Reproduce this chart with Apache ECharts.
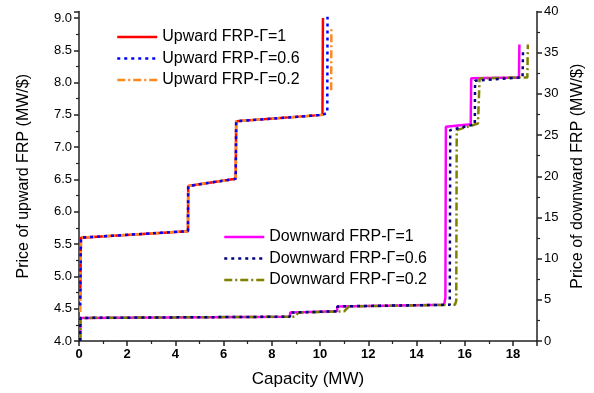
<!DOCTYPE html>
<html>
<head>
<meta charset="utf-8">
<script src="https://cdn.jsdelivr.net/npm/echarts@6/dist/echarts.min.js"></script>
<style>
  html, body { margin: 0; padding: 0; background: #fff; }
  #main { width: 594px; height: 393px; }
</style>
</head>
<body>
<div id="main"></div>
<script>
  // upward FRP price steps (left axis), [capacity, price]
  const upG1 = [[0.05, 4.65], [0.08, 5.6], [4.52, 5.7], [4.53, 6.4], [6.5, 6.51], [6.52, 7.4], [10.1, 7.5], [10.12, 9.0]];
  const upG06 = [[0.05, 4.55], [0.08, 5.6], [4.52, 5.7], [4.53, 6.4], [6.5, 6.51], [6.52, 7.4], [10.1, 7.5], [10.3, 7.53], [10.31, 9.02]];
  const upG02 = [[0.05, 4.45], [0.08, 5.6], [4.52, 5.7], [4.53, 6.4], [6.5, 6.51], [6.52, 7.4], [10.12, 7.5], [10.3, null], [10.46, 7.88], [10.47, 8.85]];

  // downward FRP price steps (right axis)
  const dnG1 = [[0.05, 0], [0.06, 2.8], [8.75, 2.95], [8.76, 3.45], [10.7, 3.6], [10.72, 4.2], [15.15, 4.4], [15.2, 5.3], [15.22, 26.0], [16.25, 26.3], [16.27, 31.9], [18.25, 32.0], [18.27, 36.0]];
  const dnG06 = [[0.05, 0], [0.06, 2.8], [8.75, 2.95], [8.76, 3.45], [10.7, 3.6], [10.72, 4.2], [15.38, 4.4], [15.4, 25.6], [16.42, 26.3], [16.43, 31.6], [18.4, 32.0], [18.42, 35.3]];
  const dnG02 = [[0.05, 0], [0.06, 2.8], [8.95, 2.95], [9.1, 3.45], [11.0, 3.6], [11.2, 4.2], [15.6, 4.4], [15.65, 4.9], [15.67, 25.6], [16.55, 26.4], [16.62, 31.9], [18.6, 32.0], [18.62, 36.0]];

  const upNames = ['Upward FRP-Γ=1', 'Upward FRP-Γ=0.6', 'Upward FRP-Γ=0.2'];
  const dnNames = ['Downward FRP-Γ=1', 'Downward FRP-Γ=0.6', 'Downward FRP-Γ=0.2'];

  const font = '"Liberation Sans", Arial, sans-serif';
  const axisCol = '#222';

  function onStep(v, step) {
    return Math.abs(v / step - Math.round(v / step)) < 1e-6;
  }

  let chart = echarts.init(document.getElementById('main'));
  chart.setOption({
    animation: false,
    grid: { left: 79, right: 46, top: 11.5, bottom: 50, containLabel: false },
    xAxis: {
      type: 'value',
      min: 0, max: 19, interval: 2,
      name: 'Capacity (MW)',
      nameLocation: 'middle',
      nameGap: 30,
      nameTextStyle: { fontSize: 17, color: '#000', fontFamily: font },
      axisLine: { lineStyle: { color: axisCol, width: 1.5 } },
      axisTick: { length: 5, lineStyle: { color: axisCol, width: 1.5 } },
      minorTick: { show: true, splitNumber: 2, length: 3, lineStyle: { color: axisCol, width: 1.2 } },
      axisLabel: {
        fontSize: 13, fontWeight: 'bold', color: '#000', fontFamily: font, margin: 7,
        formatter: v => onStep(v, 2) ? String(Math.round(v)) : ''
      },
      splitLine: { show: false }
    },
    yAxis: [
      {
        type: 'value',
        min: 4, max: 9.1, interval: 0.5,
        name: 'Price of upward FRP (MW/$)',
        nameLocation: 'middle',
        nameGap: 47,
        nameTextStyle: { fontSize: 16, color: '#000', fontFamily: font },
        axisLine: { show: true, lineStyle: { color: axisCol, width: 1.5 } },
        axisTick: { length: 5, lineStyle: { color: axisCol, width: 1.5 } },
        minorTick: { show: true, splitNumber: 2, length: 3, lineStyle: { color: axisCol, width: 1.2 } },
        axisLabel: {
          fontSize: 13, color: '#000', fontFamily: font, margin: 7,
          formatter: v => onStep(v, 0.5) ? v.toFixed(1) : ''
        },
        splitLine: { show: false }
      },
      {
        type: 'value',
        position: 'right',
        min: 0, max: 40, interval: 5,
        name: 'Price of downward FRP (MW/$)',
        nameLocation: 'middle',
        nameGap: 33,
        nameTextStyle: { fontSize: 16, color: '#000', fontFamily: font },
        axisLine: { show: true, lineStyle: { color: axisCol, width: 1.5 } },
        axisTick: { length: 5, lineStyle: { color: axisCol, width: 1.5 } },
        minorTick: { show: true, splitNumber: 2, length: 3, lineStyle: { color: axisCol, width: 1.2 } },
        axisLabel: { fontSize: 13, color: '#000', fontFamily: font, margin: 7 },
        splitLine: { show: false }
      }
    ],
    legend: [
      {
        data: upNames,
        orient: 'vertical',
        left: 111, top: 24,
        itemStyle: { opacity: 0 },
        lineStyle: { width: 2.5 },
        itemWidth: 40, itemHeight: 14, itemGap: 5.5,
        textStyle: { fontSize: 16, color: '#000', fontFamily: font }
      },
      {
        data: dnNames,
        orient: 'vertical',
        left: 218, top: 224,
        itemStyle: { opacity: 0 },
        lineStyle: { width: 2.5 },
        itemWidth: 40, itemHeight: 14, itemGap: 5.5,
        textStyle: { fontSize: 16, color: '#000', fontFamily: font }
      }
    ],
    series: [
      { name: upNames[0], type: 'line', yAxisIndex: 0, data: upG1, symbol: 'none', z: 2,
        lineStyle: { color: '#ff0000', width: 2.5 }, itemStyle: { color: '#ff0000' } },
      { name: upNames[2], type: 'line', yAxisIndex: 0, data: upG02, symbol: 'none', z: 3,
        lineStyle: { color: '#ff8a1c', width: 2.5, type: [8, 3, 2, 3] }, itemStyle: { color: '#ff8a1c' } },
      { name: upNames[1], type: 'line', yAxisIndex: 0, data: upG06, symbol: 'none', z: 4,
        lineStyle: { color: '#0000ff', width: 2.5, type: [3, 4] }, itemStyle: { color: '#0000ff' } },
      { name: dnNames[0], type: 'line', yAxisIndex: 1, data: dnG1, symbol: 'none', z: 2,
        lineStyle: { color: '#ff00ff', width: 2.5 }, itemStyle: { color: '#ff00ff' } },
      { name: dnNames[2], type: 'line', yAxisIndex: 1, data: dnG02, symbol: 'none', z: 3,
        lineStyle: { color: '#808000', width: 2.5, type: [8, 3, 2, 3] }, itemStyle: { color: '#808000' } },
      { name: dnNames[1], type: 'line', yAxisIndex: 1, data: dnG06, symbol: 'none', z: 4,
        lineStyle: { color: '#000080', width: 2.5, type: [3, 4] }, itemStyle: { color: '#000080' } }
    ]
  });
</script>
</body>
</html>
